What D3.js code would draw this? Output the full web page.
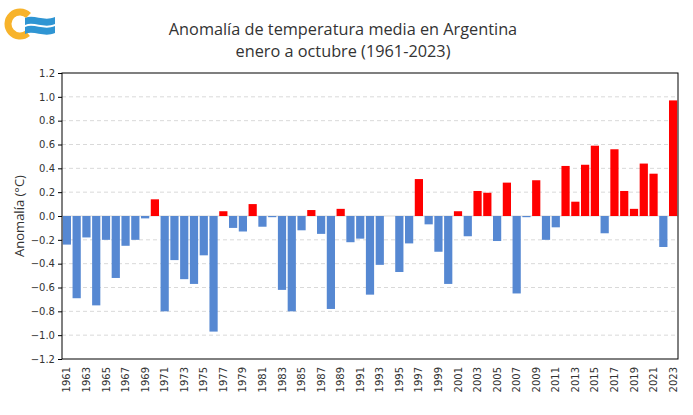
<!DOCTYPE html>
<html>
<head>
<meta charset="utf-8">
<script src="https://cdn.jsdelivr.net/npm/d3@7"></script>
<style>
  body { margin: 0; background: #fff; }
  svg { display: block; }
  .tick text { fill: #333; }
</style>
</head>
<body>
<svg width="693" height="415"></svg>
<script>
// anomalías enero-octubre, °C
const years = d3.range(1961, 2024);
const anomalies = [
  -0.24, -0.69, -0.18, -0.75, -0.20, -0.52, -0.25, -0.20, -0.02, 0.14,
  -0.80, -0.37, -0.53, -0.57, -0.33, -0.97, 0.04, -0.10, -0.13, 0.10,
  -0.09, -0.01, -0.62, -0.80, -0.12, 0.05, -0.15, -0.78, 0.06, -0.22,
  -0.19, -0.66, -0.41, 0.00, -0.47, -0.23, 0.31, -0.07, -0.30, -0.57,
  0.04, -0.17, 0.21, 0.195, -0.21, 0.28, -0.65, -0.01, 0.30, -0.20,
  -0.095, 0.42, 0.12, 0.43, 0.59, -0.145, 0.56, 0.21, 0.06, 0.44,
  0.355, -0.26, 0.97
];
const yTicks = d3.range(-1.2, 1.21, 0.2).map(v => +v.toFixed(1));
const titleLines = ["Anomalía de temperatura media en Argentina", "enero a octubre (1961-2023)"];

const data = years.map((y, i) => ({ year: y, value: anomalies[i] }));

const svg = d3.select("svg");
const plotLeft = 62, plotRight = 678, plotTop = 73, plotBottom = 359;

const x = d3.scaleBand().domain(years).range([plotLeft, plotRight]).paddingInner(0.16).paddingOuter(0.08);
const y = d3.scaleLinear().domain([-1.2, 1.2]).range([plotBottom, plotTop]);

// grid
svg.append("g")
  .selectAll("line")
  .data(yTicks.filter(d => d !== 0 && Math.abs(d) < 1.2))
  .enter()
  .append("line")
  .attr("x1", plotLeft).attr("x2", plotRight)
  .attr("y1", d => y(d)).attr("y2", d => y(d))
  .attr("stroke", "#d9d9d9")
  .attr("stroke-dasharray", "4,3");

svg.append("line")
  .attr("x1", plotLeft).attr("x2", plotRight)
  .attr("y1", y(0)).attr("y2", y(0))
  .attr("stroke", "#d9d9d9");

// bars
svg.append("g")
  .selectAll("rect")
  .data(data)
  .enter()
  .append("rect")
  .attr("x", d => x(d.year))
  .attr("width", x.bandwidth())
  .attr("y", d => y(Math.max(0, d.value)))
  .attr("height", d => Math.abs(y(d.value) - y(0)))
  .attr("fill", d => d.value > 0 ? "#ff0000" : "#5688d2");

// frame
svg.append("rect")
  .attr("x", plotLeft).attr("y", plotTop)
  .attr("width", plotRight - plotLeft).attr("height", plotBottom - plotTop)
  .attr("fill", "none").attr("stroke", "#000").attr("stroke-width", 1);

// y axis
const yAxis = svg.append("g")
  .attr("transform", `translate(${plotLeft},0)`)
  .call(d3.axisLeft(y).tickValues(yTicks).tickFormat(d3.format(".1f")).tickSize(4).tickPadding(3));
yAxis.select(".domain").remove();
yAxis.selectAll("line").attr("stroke", "#000");
yAxis.selectAll("text").style("font-family", "DejaVu Sans").style("font-size", "10px");

// x axis
const xAxis = svg.append("g")
  .attr("transform", `translate(0,${plotBottom})`)
  .call(d3.axisBottom(x).tickValues(years.filter(v => v % 2 === 1)).tickSize(0).tickPadding(0));
xAxis.select(".domain").remove();
xAxis.selectAll("text")
  .style("font-family", "DejaVu Sans").style("font-size", "10px")
  .attr("transform", "rotate(-90)")
  .attr("text-anchor", "end")
  .attr("x", -8).attr("y", 0).attr("dy", "0.35em");

// y label
svg.append("text")
  .attr("transform", `translate(24,${(plotTop + plotBottom) / 2}) rotate(-90)`)
  .attr("text-anchor", "middle")
  .style("font-family", "Open Sans").style("font-size", "13px")
  .style("fill", "#333")
  .text("Anomalía (°C)");

// title
svg.append("g")
  .selectAll("text")
  .data(titleLines)
  .enter()
  .append("text")
  .attr("x", 343)
  .attr("y", (d, i) => 35 + i * 22)
  .attr("text-anchor", "middle")
  .style("font-family", "Open Sans").style("font-size", "16.3px")
  .style("fill", "#333")
  .text(d => d);

// logo
const logo = svg.append("g").attr("transform", "translate(20,24)");
logo.append("path")
  .attr("d", d3.arc().innerRadius(8.5).outerRadius(15.5).startAngle(Math.PI * 0.78).endAngle(Math.PI * 2.25)())
  .attr("fill", "#f7b32b");
const wave = "M5,-6 C14,-10 24,-2 35,-7 L35,0 C24,5 14,-3 5,1 Z";
logo.append("path").attr("d", wave).attr("fill", "#2f95d3");
logo.append("path").attr("d", wave).attr("transform", "translate(0,9)").attr("fill", "#2f95d3");
</script>
</body>
</html>
